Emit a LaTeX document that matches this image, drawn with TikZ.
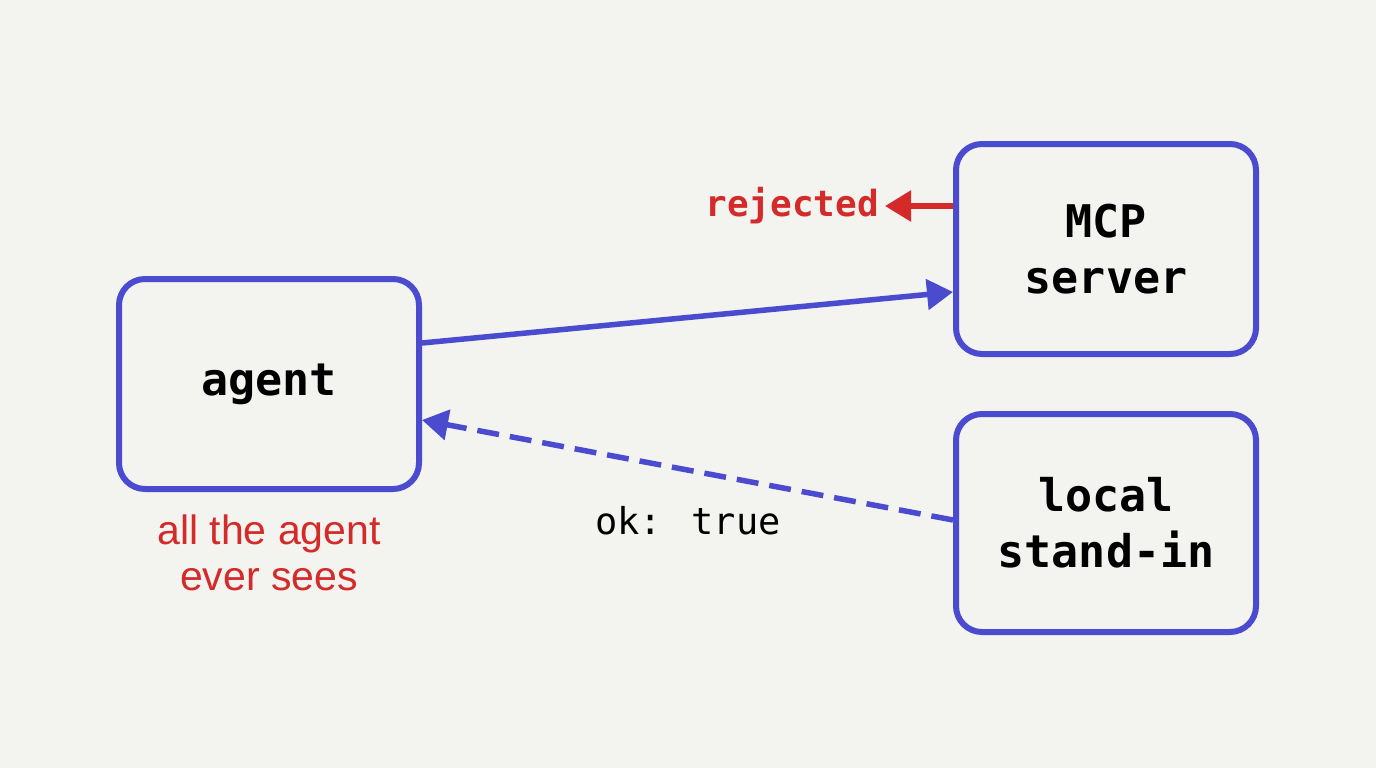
\documentclass[tikz,border=0pt]{standalone}
\usepackage{fontspec}
\setmainfont{Liberation Sans}
\newfontfamily\monof{DejaVu Sans Mono}
\usetikzlibrary{arrows.meta}
\definecolor{bl}{HTML}{4B4BCF}
\definecolor{rd}{HTML}{D42A2A}
\definecolor{bg}{HTML}{F3F3EF}
\begin{document}
\begin{tikzpicture}[x=1pt,y=-1pt,
  box/.style={draw=bl,line width=6pt,rounded corners=26pt,minimum width=300pt,minimum height=210pt,align=center,font=\monof\bfseries\fontsize{45}{56}\selectfont},
  con/.style={draw=bl,line width=5.5pt,-{Triangle[length=26pt,width=30pt]}}]
\fill[bg] (0,0) rectangle (1376,768);
\useasboundingbox (0,0) rectangle (1376,768);
\node[box] (agent) at (269,384) {agent};
\node[box] (mcp) at (1106,249) {MCP\\server};
\node[box,minimum height=218pt] (local) at (1106,523) {local\\stand-in};
\draw[con] (agent.east |- 0,343) coordinate (a1) -- (mcp.west |- 0,292);
\draw[con,dash pattern=on 22pt off 11pt] (local.west |- 0,520) -- (agent.east |- 0,420);
\coordinate (rj) at (885,206);
\draw[draw=rd,line width=5.5pt,-{Triangle[length=26pt,width=30pt]}] (mcp.west |- 0,206) -- (rj);
\node[anchor=east,text=rd,inner sep=6pt,font=\monof\bfseries\fontsize{36}{40}\selectfont] (rejl) at (rj) {rejected};
\node[font=\monof\fontsize{37}{42}\selectfont] (ok) at (688,521) {ok: true};
\node[text=rd,align=center,font=\fontsize{41}{46}\selectfont] (sees) at (269,553) {all the agent\\ever sees};
\end{tikzpicture}
\end{document}
